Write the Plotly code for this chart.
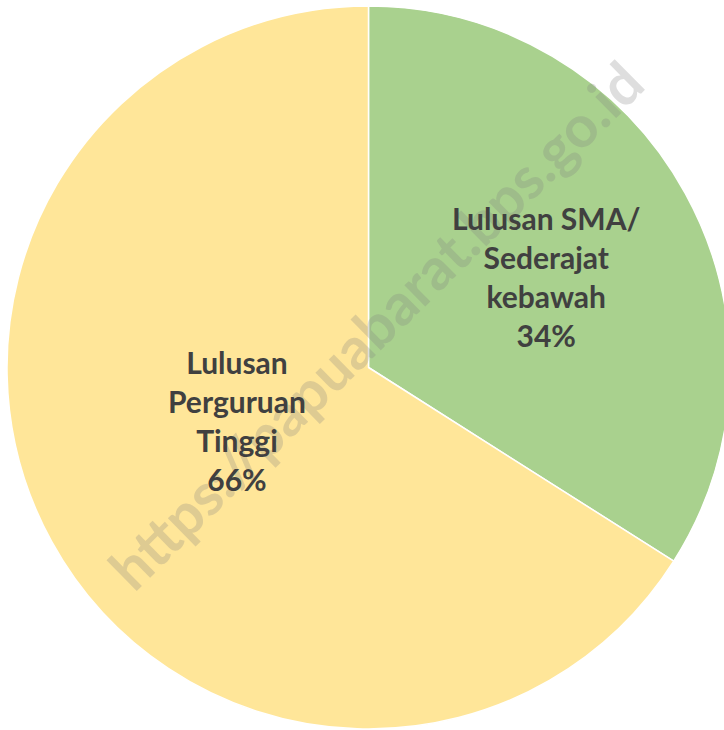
import plotly.graph_objects as go

labels = ["Lulusan SMA/<br>Sederajat<br>kebawah", "Lulusan<br>Perguruan<br>Tinggi"]
values = [34, 66]
colors = ["#A9D18E", "#FFE699"]
watermark = "https://papuabarat.bps.go.id"
# label anchor positions (paper coords)
label_pos = [(0.746, 0.626), (0.318, 0.427)]

total = sum(values)

fig = go.Figure()
fig.add_trace(go.Pie(
    labels=labels,
    values=values,
    sort=False,
    direction="clockwise",
    rotation=0,
    marker=dict(colors=colors, line=dict(color="white", width=1.5)),
    textinfo="none",
    showlegend=False,
    hoverinfo="skip",
))

fig.add_annotation(
    text=watermark, xref="paper", yref="paper", x=0.509, y=0.559,
    xanchor="center", yanchor="middle",
    showarrow=False, textangle=-44.6,
    font=dict(family="Lato", size=58, color="rgba(128,128,128,0.26)", weight="bold"),
)

for lab, val, (px, py) in zip(labels, values, label_pos):
    fig.add_annotation(
        text=f"{lab}<br>{round(val / total * 100)}%", xref="paper", yref="paper",
        x=px, y=py, xanchor="center", yanchor="middle",
        showarrow=False, align="center",
        font=dict(family="Lato", size=30, color="#404040", weight="bold"),
    )

fig.update_layout(
    width=730, height=730,
    margin=dict(l=7, r=0, t=6, b=1),
    paper_bgcolor="white", plot_bgcolor="white",
)

fig.write_html(
    "out.html",
    config={"displayModeBar": False},
    post_script="document.body.style.margin='0';document.body.style.overflow='hidden';document.documentElement.style.overflow='hidden';",
)
